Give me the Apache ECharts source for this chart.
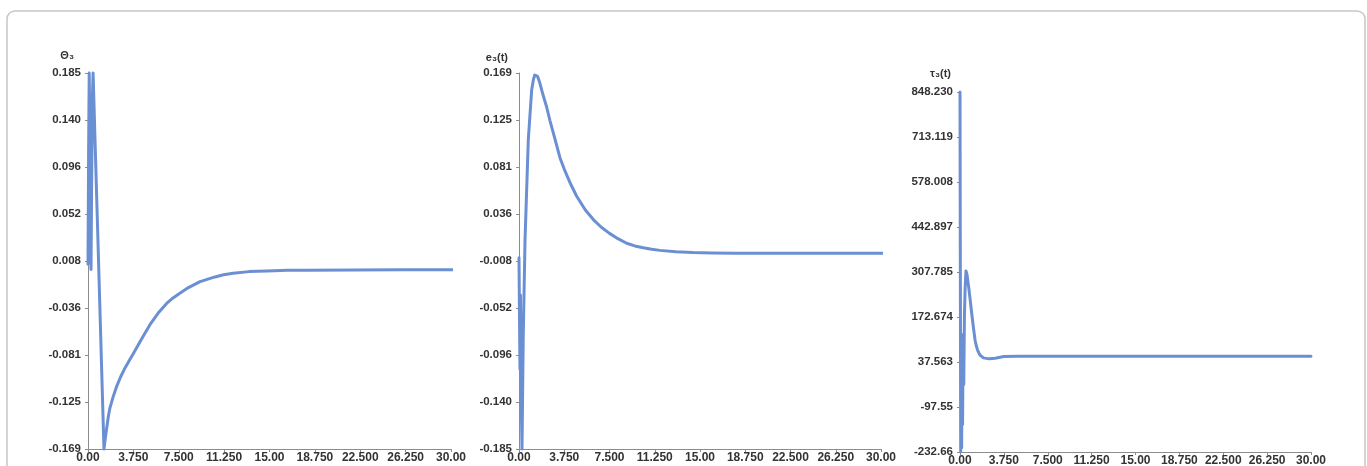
<!DOCTYPE html>
<html>
<head>
<meta charset="utf-8">
<script src="https://cdn.jsdelivr.net/npm/echarts@6/dist/echarts.min.js"></script>
<style>
  html, body { margin: 0; padding: 0; background: #fff; }
  #chart { width: 1367px; height: 466px; }
</style>
</head>
<body>
<div id="chart"></div>
<script>
// Time axis shared by the three responses
const X_LABELS = ['0.00', '3.750', '7.500', '11.250', '15.00', '18.750', '22.500', '26.250', '30.00'];

// Θ3 : joint angle error
const T_THETA = [0, 0.05, 0.1, 0.15, 0.2, 0.25, 0.3, 0.36, 0.42, 0.6, 0.8, 1.0, 1.2, 1.32, 1.45, 1.6, 1.7, 1.82, 2.1, 2.37, 2.7, 3.0, 3.4, 3.75, 4.1, 4.5, 5.12, 5.8, 6.5, 7.0, 7.5, 8.3, 9.26, 10.5, 11.2, 12.0, 13.3, 14.8, 16.5, 18.0, 22.0, 26.0, 30.4];
const THETA3 = [0.005, 0.11, 0.185, 0.14, 0.06, 0.0, 0.08, 0.16, 0.185, 0.114, 0.036, -0.043, -0.122, -0.169, -0.157, -0.145, -0.137, -0.130, -0.119, -0.110, -0.101, -0.094, -0.086, -0.079, -0.072, -0.064, -0.052, -0.041, -0.032, -0.027, -0.023, -0.017, -0.0114, -0.007, -0.005, -0.0035, -0.002, -0.0013, -0.0008, -0.0006, -0.0004, -0.0003, -0.0003];
const Y1_LABELS = ['-0.169', '-0.125', '-0.081', '-0.036', '0.008', '0.052', '0.096', '0.140', '0.185'];

// e3(t) : tracking error
const T_E = [0, 0.04, 0.08, 0.12, 0.16, 0.2, 0.25, 0.35, 0.5, 0.77, 1.05, 1.2, 1.3, 1.41, 1.52, 1.6, 1.74, 2.0, 2.29, 2.57, 3.0, 3.4, 3.8, 4.3, 4.78, 5.5, 6.16, 6.8, 7.5, 8.2, 8.92, 9.6, 10.3, 11.0, 11.68, 13.0, 14.4, 16.0, 18.0, 22.0, 26.0, 30.4];
const E3 = [-0.005, -0.06, -0.11, -0.04, -0.09, -0.15, -0.185, -0.08, 0.012, 0.106, 0.153, 0.163, 0.167, 0.168, 0.166, 0.164, 0.159, 0.148, 0.137, 0.124, 0.106, 0.089, 0.077, 0.064, 0.053, 0.040, 0.031, 0.024, 0.018, 0.013, 0.0087, 0.0062, 0.0044, 0.003, 0.002, 0.0007, -0.0001, -0.0005, -0.0007, -0.0008, -0.0008, -0.0008];
const Y2_LABELS = ['-0.185', '-0.140', '-0.096', '-0.052', '-0.008', '0.036', '0.081', '0.125', '0.169'];

// τ3(t) : control torque
const T_TAU = [0, 0.03, 0.06, 0.1, 0.14, 0.18, 0.22, 0.27, 0.32, 0.38, 0.44, 0.51, 0.6, 0.75, 0.9, 1.0, 1.15, 1.29, 1.4, 1.5, 1.71, 2.0, 2.5, 3.0, 3.75, 5.0, 10.0, 15.0, 20.0, 25.0, 30.0];
const TAU3 = [848.23, 300, -232.66, 120, -220, 80, -150, 120, -30, 180, 260, 311, 300, 260, 215, 184, 140, 103, 85, 73, 58, 50, 47, 49, 54, 55, 55, 55, 55, 55, 55];
const Y3_LABELS = ['-232.66', '-97.55', '37.563', '172.674', '307.785', '442.897', '578.008', '713.119', '848.230'];

const LINE_COLOR = '#6b8fd3';
const TEXT_COLOR = '#333';
const AXIS_COLOR = '#8c8c8c';
const FONT = "'Liberation Sans', 'DejaVu Sans', Arial, sans-serif";

function zip(xs, ys) { return xs.map((x, i) => [x, ys[i]]); }

// Nine evenly spaced ticks spanning the labelled range (ends kept exact)
function evenTicks(labels) {
  const lo = parseFloat(labels[0]);
  const hi = parseFloat(labels[labels.length - 1]);
  const n = labels.length - 1;
  const vals = [];
  for (let i = 0; i <= n; i++) vals.push(i === 0 ? lo : i === n ? hi : lo + (hi - lo) * i / n);
  return { lo, hi, vals };
}

const panels = [
  { left: 88, width: 363, top: 73, height: 376, name: 'Θ₃', namePad: 14, nameGap: 12, labels: Y1_LABELS, data: zip(T_THETA, THETA3) },
  { left: 519, width: 362, top: 73, height: 376, name: 'e₃(t)', namePad: 11, nameGap: 10, labels: Y2_LABELS, data: zip(T_E, E3) },
  { left: 960, width: 351, top: 92, height: 360, name: 'τ₃(t)', namePad: 9, nameGap: 13, labels: Y3_LABELS, data: zip(T_TAU, TAU3) }
];

const grid = [], xAxis = [], yAxis = [], series = [];
panels.forEach((p, i) => {
  const tk = evenTicks(p.labels);
  grid.push({ left: p.left, top: p.top, width: p.width, height: p.height, containLabel: false, outerBoundsMode: 'none' });
  xAxis.push({
    type: 'value', gridIndex: i, min: 0, max: 30, interval: 3.75,
    name: 't', nameLocation: 'end', nameGap: 0,
    nameTextStyle: { color: TEXT_COLOR, fontSize: 9, fontFamily: FONT, align: 'center', verticalAlign: 'top', padding: [16, 0, 0, 0] },
    axisLine: { show: true, onZero: false, lineStyle: { color: AXIS_COLOR, width: 1 } },
    axisTick: { show: true, inside: false, length: 3, lineStyle: { color: AXIS_COLOR } },
    splitLine: { show: false },
    axisLabel: {
      show: true, margin: 3, color: TEXT_COLOR, fontSize: 12, fontWeight: 'bold', fontFamily: FONT,
      formatter: v => X_LABELS[Math.round(v / 3.75)] ?? ''
    }
  });
  yAxis.push({
    type: 'value', gridIndex: i, min: tk.lo, max: tk.hi,
    name: p.name, nameLocation: 'end', nameGap: p.nameGap,
    nameTextStyle: { color: TEXT_COLOR, fontSize: 11, fontWeight: 'bold', fontFamily: FONT, align: 'right', padding: [0, p.namePad, 0, 0] },
    axisLine: { show: true, onZero: false, lineStyle: { color: AXIS_COLOR, width: 1 } },
    axisTick: { show: true, length: 3, customValues: tk.vals, lineStyle: { color: AXIS_COLOR } },
    splitLine: { show: false },
    axisLabel: {
      show: true, margin: 7, color: TEXT_COLOR, fontSize: 11.5, fontWeight: 'bold', fontFamily: FONT,
      showMinLabel: true, showMaxLabel: true,
      customValues: tk.vals,
      formatter: v => {
        let best = 0, bd = Infinity;
        tk.vals.forEach((t, k) => { const d = Math.abs(t - v); if (d < bd) { bd = d; best = k; } });
        return p.labels[best];
      }
    }
  });
  series.push({
    type: 'line', xAxisIndex: i, yAxisIndex: i, data: p.data,
    showSymbol: false, clip: false, smooth: false,
    lineStyle: { color: LINE_COLOR, width: 3, join: 'round', cap: 'round' },
    animation: false
  });
});

const chart = echarts.init(document.getElementById('chart'), null, { renderer: 'canvas' });
chart.setOption({
  backgroundColor: '#fff',
  animation: false,
  grid, xAxis, yAxis, series,
  graphic: [{
    type: 'rect', silent: true, z: -1,
    shape: { x: 7, y: 11, width: 1358, height: 500, r: 8 },
    style: { fill: 'none', stroke: '#c6c6c6', lineWidth: 1.5 }
  }]
});
</script>
</body>
</html>
